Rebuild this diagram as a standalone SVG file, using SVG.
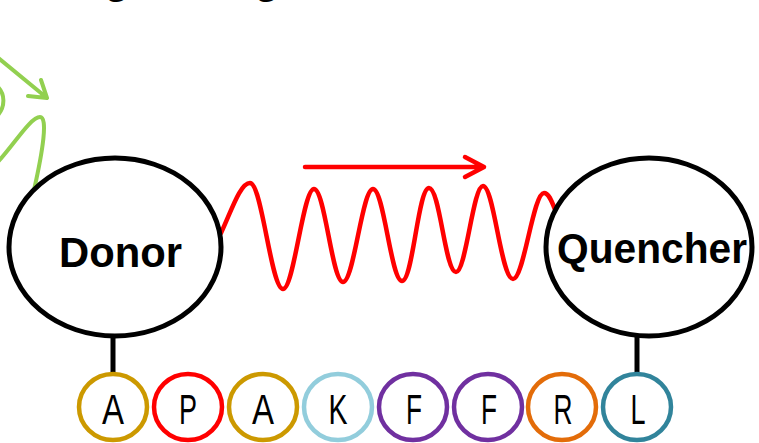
<svg xmlns="http://www.w3.org/2000/svg" width="759" height="443" viewBox="0 0 759 443">
<style>
.node{fill:#fff;stroke:#000;stroke-width:5}
.lbl{font-family:"Liberation Sans",Arial,sans-serif;font-weight:bold;font-size:42px;fill:#000}
.res{font-family:"Liberation Sans",Arial,sans-serif;font-size:42px;fill:#000;text-anchor:middle}
.ring{fill:#fff;stroke-width:4.5}
.stem{stroke:#000;stroke-width:5}
.green{fill:none;stroke:#92D050;stroke-width:4;stroke-linecap:round;stroke-linejoin:round}
.red{fill:none;stroke:#FF0000;stroke-width:4.5;stroke-linecap:round;stroke-linejoin:round}
</style>
<rect width="759" height="443" fill="#fff"/>
<text class="lbl" x="104" y="-7">g</text>
<text class="lbl" x="254" y="-7">g</text>
<g id="connectors">
<path class="green" d="M-3,86 C5,93 6,107 -3,116"/>
<path class="green" d="M-6,166 C12,148 30,117 40,117 C48,117 43,150 34,190"/>
<path class="green" d="M-4,56 L47,98 M28,96 L47,98 L41,80"/>
<path class="red" d="M221,233 C231,212 240,183 250,183 C262,183 271,289 283,289 C294,289 303,189 314,189 C325,189 332,282 343,282 C354,282 362,189 373,189 C384,189 391,281 402,281 C413,281 418,188 429,188 C440,188 445,272 456,272 C466,272 473,186 483,186 C494,186 501,279 513,279 C524,279 533,193 544,193 C549,193 552,202 556,212"/>
<path class="red" d="M305,167 L484,167 M465,157 L484,167 L465,177" stroke-width="3.5"/>
<line class="stem" x1="113" y1="335" x2="113" y2="376"/>
<line class="stem" x1="637" y1="335" x2="637" y2="376"/>
</g>
<g id="donor">
<ellipse class="node" cx="115" cy="247" rx="106" ry="89"/>
<text class="lbl" x="59" y="267" textLength="123" lengthAdjust="spacingAndGlyphs">Donor</text>
</g>
<g id="quencher">
<ellipse class="node" cx="649" cy="247" rx="103" ry="89"/>
<text class="lbl" x="557" y="263" textLength="190" lengthAdjust="spacingAndGlyphs">Quencher</text>
</g>
<g id="res1"><ellipse class="ring" stroke="#CC9900" cx="113" cy="407" rx="34" ry="33"/><text class="res" x="113" y="424" textLength="22" lengthAdjust="spacingAndGlyphs">A</text></g>
<g id="res2"><ellipse class="ring" stroke="#FF0000" cx="188" cy="407" rx="34" ry="33"/><text class="res" x="188" y="424" textLength="18" lengthAdjust="spacingAndGlyphs">P</text></g>
<g id="res3"><ellipse class="ring" stroke="#CC9900" cx="263" cy="407" rx="34" ry="33"/><text class="res" x="263" y="424" textLength="22" lengthAdjust="spacingAndGlyphs">A</text></g>
<g id="res4"><ellipse class="ring" stroke="#92CDDC" cx="338" cy="407" rx="34" ry="33"/><text class="res" x="338" y="424" textLength="19" lengthAdjust="spacingAndGlyphs">K</text></g>
<g id="res5"><ellipse class="ring" stroke="#7030A0" cx="413" cy="407" rx="34" ry="33"/><text class="res" x="414" y="424" textLength="16" lengthAdjust="spacingAndGlyphs">F</text></g>
<g id="res6"><ellipse class="ring" stroke="#7030A0" cx="488" cy="407" rx="34" ry="33"/><text class="res" x="489" y="424" textLength="16" lengthAdjust="spacingAndGlyphs">F</text></g>
<g id="res7"><ellipse class="ring" stroke="#E36C09" cx="562" cy="407" rx="34" ry="33"/><text class="res" x="563" y="424" textLength="19" lengthAdjust="spacingAndGlyphs">R</text></g>
<g id="res8"><ellipse class="ring" stroke="#31849B" cx="637" cy="407" rx="34" ry="33"/><text class="res" x="638" y="424" textLength="15" lengthAdjust="spacingAndGlyphs">L</text></g>
</svg>
